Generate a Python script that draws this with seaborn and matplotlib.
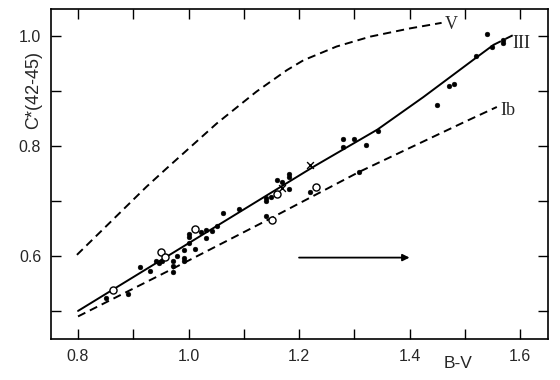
import matplotlib
matplotlib.use('Agg')
import matplotlib.pyplot as plt
import seaborn as sns
from matplotlib.ticker import MultipleLocator

# Curvas
v_x = [0.798, 0.924, 0.960, 1.051, 1.123, 1.178, 1.208, 1.268, 1.329, 1.401, 1.458]
v_y = [0.602, 0.726, 0.759, 0.841, 0.899, 0.938, 0.956, 0.981, 0.999, 1.014, 1.024]

iii_x = [0.80, 1.229, 1.342, 1.425, 1.521, 1.552]
iii_y = [0.500, 0.764, 0.830, 0.889, 0.961, 0.984]
iii_ext_x = [1.552, 1.59]
iii_ext_y = [0.984, 1.003]

ib_x = [0.80, 0.96, 1.146, 1.309, 1.50, 1.558]
ib_y = [0.490, 0.571, 0.667, 0.753, 0.844, 0.871]

# Pontos cheios
filled_x = [0.851, 0.891, 0.912, 0.930, 0.941, 0.947, 0.952, 0.971, 0.971, 0.971,
            0.980, 0.991, 0.992, 0.992, 1.000, 1.000, 1.000, 1.012, 1.022, 1.032,
            1.032, 1.042, 1.052, 1.062, 1.092, 1.140, 1.140, 1.149, 1.140, 1.161,
            1.170, 1.181, 1.181, 1.181, 1.220, 1.280, 1.280, 1.300, 1.321, 1.342,
            1.309, 1.450, 1.471, 1.481, 1.520, 1.541, 1.550, 1.570, 1.570]
filled_y = [0.523, 0.530, 0.579, 0.573, 0.590, 0.588, 0.591, 0.591, 0.582, 0.571,
            0.600, 0.610, 0.596, 0.590, 0.623, 0.634, 0.640, 0.612, 0.644, 0.648,
            0.633, 0.646, 0.655, 0.678, 0.685, 0.705, 0.700, 0.708, 0.673, 0.738,
            0.735, 0.749, 0.744, 0.721, 0.717, 0.812, 0.798, 0.812, 0.801, 0.827,
            0.753, 0.875, 0.910, 0.913, 0.964, 1.004, 0.981, 0.993, 0.987]

# Circulos abertos
open_x = [0.863, 0.951, 0.957, 1.012, 1.151, 1.160, 1.230]
open_y = [0.538, 0.607, 0.599, 0.649, 0.665, 0.712, 0.726]

# Cruzes
cross_x = [1.169, 1.219]
cross_y = [0.724, 0.765]

# Seta
arrow_x = [1.20, 1.40]
arrow_y = 0.597

sns.set_theme(style='ticks')
plt.rcParams['font.family'] = ['Liberation Sans', 'DejaVu Sans']

fig = plt.figure(figsize=(5.6, 3.8), dpi=100)
ax = fig.add_axes([0.091, 0.108, 0.888, 0.868])

dash = (0, (4.2, 2.6))
sns.lineplot(x=v_x, y=v_y, ax=ax, color='black', lw=1.4, linestyle=dash, sort=False, estimator=None)
sns.lineplot(x=ib_x, y=ib_y, ax=ax, color='black', lw=1.4, linestyle=dash, sort=False, estimator=None)
sns.lineplot(x=iii_x, y=iii_y, ax=ax, color='black', lw=1.4, sort=False, estimator=None)
sns.lineplot(x=iii_ext_x, y=iii_ext_y, ax=ax, color='black', lw=1.4, linestyle=dash, sort=False, estimator=None)

sns.scatterplot(x=filled_x, y=filled_y, ax=ax, color='black', s=12, edgecolor='black', linewidth=0.3, zorder=3)
sns.scatterplot(x=open_x, y=open_y, ax=ax, facecolor='white', edgecolor='black', s=26, linewidth=1.0, zorder=4)
sns.scatterplot(x=cross_x, y=cross_y, ax=ax, marker='x', color='black', s=24, linewidth=1.0, zorder=4)

ax.annotate('', xy=(arrow_x[1], arrow_y), xytext=(arrow_x[0], arrow_y),
            arrowprops=dict(arrowstyle='-|>', color='black', lw=1.3, mutation_scale=10,
                            shrinkA=0, shrinkB=0))

serif = ['Liberation Serif', 'DejaVu Serif']
ax.text(1.475, 1.021, 'V', family=serif, fontsize=13, ha='center', va='center')
ax.text(1.603, 0.987, 'III', family=serif, fontsize=13, ha='center', va='center')
ax.text(1.578, 0.864, 'Ib', family=serif, fontsize=13, ha='center', va='center')

ax.set_xlim(0.751, 1.651)
ax.set_ylim(0.449, 1.049)
ax.xaxis.set_major_locator(MultipleLocator(0.2))
ax.xaxis.set_minor_locator(MultipleLocator(0.1))
ax.yaxis.set_major_locator(MultipleLocator(0.2))
ax.yaxis.set_minor_locator(MultipleLocator(0.1))
ax.tick_params(which='both', direction='in', length=7, width=1.0, color='black',
               top=True, right=True, labelsize=11.5, pad=7)
ax.set_xticklabels([f'{t:.1f}' for t in ax.get_xticks()])
ax.set_yticklabels([f'{t:.1f}' for t in ax.get_yticks()])
for s in ax.spines.values():
    s.set_linewidth(1.2)
    s.set_color('black')

ax.set_xlabel('B-V', fontsize=12.5)
ax.xaxis.set_label_coords(0.819, -0.052)
ax.set_ylabel('C*(42-45)', fontsize=13)
ax.yaxis.set_label_coords(-0.018, 0.755)

fig.savefig('out.png', dpi=100, facecolor='white')
